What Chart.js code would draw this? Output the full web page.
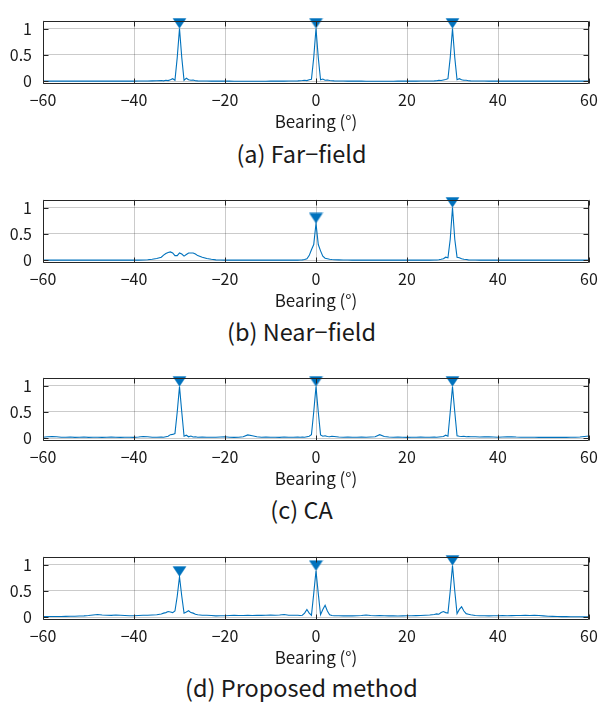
<!DOCTYPE html>
<html><head><meta charset="utf-8">
<script src="https://cdn.jsdelivr.net/npm/chart.js@4"></script>
<style>
html,body{margin:0;padding:0;background:#fff;}
body{width:601px;height:702px;position:relative;overflow:hidden;font-family:"Noto Sans CJK KR","Noto Sans",sans-serif;}
canvas.panel{position:absolute;left:0;}
.cap{position:absolute;left:0;width:603px;text-align:center;font-size:23.5px;line-height:28px;color:#1a1a1a;}
</style></head><body>
<canvas id="pa" class="panel" width="601" height="132" style="top:0px"></canvas>
<canvas id="pb" class="panel" width="601" height="132" style="top:179px"></canvas>
<canvas id="pc" class="panel" width="601" height="132" style="top:357px"></canvas>
<canvas id="pd" class="panel" width="601" height="132" style="top:536px"></canvas>
<div class="cap" style="top:139px">(a) Far−field</div>
<div class="cap" style="top:317px">(b) Near−field</div>
<div class="cap" style="top:495px">(c) CA</div>
<div class="cap" style="top:673px">(d) Proposed method</div>
<script>
// ---- data ----
const bearing = [
 -60,-59,-58,-57,-56,-55,-54,-53,-52,-51,-50,-49,-48,-47,-46,-45,-44,-43,-42,-41,-40,-39,-38,-37,-36,-35,-34,
 -33.5,-33,-32.5,-32,-31.5,-31,-30.5,-30,-29.5,-29,-28.5,-28,-27.5,-27,-26.5,
 -26,-25,-24,-23,-22,-21,-20,-19,-18,-17,-16,-15,-14,-13,-12,-11,-10,-9,-8,-7,-6,-5,-4,
 -3.5,-3,-2.5,-2,-1.5,-1,-0.5,0,0.5,1,1.5,2,2.5,3,3.5,
 4,5,6,7,8,9,10,11,12,13,14,15,16,17,18,19,20,21,22,23,24,25,26,
 26.5,27,27.5,28,28.5,29,29.5,30,30.5,31,31.5,32,32.5,33,33.5,
 34,35,36,37,38,39,40,41,42,43,44,45,46,47,48,49,50,51,52,53,54,55,56,57,58,59,60
];
const farField = [
 0.005,0.004,0.005,0.004,0.005,0.004,0.005,0.004,0.005,0.004,0.005,0.004,0.005,0.004,0.005,0.004,0.005,0.004,0.005,0.006,0.005,0.007,0.006,0.008,0.010,0.012,0.015,
 0.010,0.020,0.015,0.030,0.050,0.020,0.450,1.000,0.450,0.020,0.060,0.030,0.020,0.025,0.012,
 0.010,0.008,0.006,0.005,0.005,0.004,0.004,0.004,0.003,0.003,0.003,0.003,0.003,0.003,0.003,0.003,0.004,0.004,0.005,0.005,0.006,0.008,0.010,
 0.012,0.015,0.020,0.015,0.030,0.040,0.450,1.000,0.450,0.030,0.045,0.020,0.025,0.015,0.012,
 0.010,0.008,0.006,0.005,0.005,0.004,0.004,0.003,0.003,0.003,0.003,0.003,0.003,0.003,0.004,0.004,0.004,0.005,0.005,0.006,0.007,0.008,0.010,
 0.012,0.018,0.015,0.025,0.035,0.050,0.450,1.000,0.450,0.030,0.050,0.030,0.020,0.020,0.012,
 0.010,0.008,0.007,0.006,0.005,0.005,0.005,0.004,0.004,0.004,0.004,0.004,0.004,0.004,0.004,0.004,0.004,0.004,0.004,0.004,0.004,0.004,0.004,0.004,0.004,0.004,0.004
];
const nearField = [
 0.004,0.004,0.004,0.004,0.004,0.004,0.004,0.004,0.004,0.004,0.004,0.004,0.004,0.004,0.004,0.004,0.004,0.004,0.004,0.004,0.004,0.005,0.008,0.012,0.020,0.035,0.060,
 0.100,0.130,0.150,0.160,0.140,0.090,0.090,0.140,0.120,0.080,0.110,0.140,0.140,0.140,0.120,
 0.090,0.060,0.035,0.020,0.010,0.006,0.004,0.004,0.004,0.004,0.004,0.004,0.004,0.004,0.004,0.004,0.004,0.004,0.004,0.004,0.004,0.004,0.004,
 0.006,0.010,0.015,0.030,0.090,0.200,0.300,0.700,0.300,0.180,0.080,0.040,0.030,0.020,0.015,
 0.012,0.010,0.008,0.006,0.005,0.005,0.005,0.005,0.005,0.005,0.005,0.005,0.005,0.005,0.005,0.005,0.005,0.005,0.005,0.005,0.005,0.005,0.006,
 0.008,0.012,0.020,0.030,0.060,0.050,0.400,1.000,0.400,0.060,0.050,0.030,0.020,0.015,0.010,
 0.008,0.006,0.005,0.005,0.005,0.005,0.005,0.005,0.005,0.005,0.005,0.005,0.005,0.005,0.005,0.005,0.005,0.005,0.005,0.005,0.005,0.005,0.005,0.005,0.005,0.005,0.005
];
const caValues = [
 0.020,0.030,0.035,0.030,0.020,0.020,0.025,0.018,0.020,0.025,0.018,0.020,0.022,0.018,0.020,0.025,0.020,0.018,0.022,0.020,0.018,0.025,0.035,0.030,0.020,0.022,0.025,
 0.020,0.030,0.040,0.070,0.075,0.090,0.500,0.980,0.500,0.040,0.060,0.030,0.045,0.025,0.030,
 0.020,0.025,0.020,0.022,0.020,0.025,0.030,0.020,0.018,0.020,0.030,0.065,0.050,0.030,0.020,0.025,0.020,0.022,0.018,0.025,0.020,0.022,0.025,
 0.020,0.025,0.020,0.030,0.040,0.070,0.500,0.980,0.500,0.065,0.040,0.050,0.035,0.030,0.040,
 0.035,0.025,0.020,0.025,0.020,0.022,0.025,0.020,0.025,0.030,0.070,0.035,0.025,0.020,0.025,0.020,0.018,0.022,0.020,0.025,0.020,0.022,0.025,
 0.020,0.025,0.030,0.035,0.060,0.040,0.500,0.980,0.500,0.050,0.040,0.035,0.040,0.030,0.035,
 0.030,0.030,0.025,0.030,0.028,0.025,0.022,0.025,0.028,0.030,0.025,0.022,0.020,0.022,0.020,0.018,0.020,0.018,0.020,0.018,0.020,0.018,0.020,0.022,0.025,0.035,0.045
];
const proposedValues = [
 0.015,0.015,0.016,0.015,0.017,0.018,0.020,0.022,0.025,0.028,0.035,0.045,0.055,0.045,0.040,0.038,0.045,0.040,0.035,0.030,0.030,0.035,0.040,0.040,0.045,0.050,0.065,
 0.080,0.090,0.110,0.100,0.090,0.120,0.400,0.770,0.400,0.080,0.100,0.125,0.090,0.080,0.060,
 0.050,0.040,0.040,0.035,0.028,0.030,0.030,0.035,0.040,0.035,0.035,0.040,0.035,0.040,0.038,0.040,0.045,0.040,0.045,0.055,0.040,0.040,0.040,
 0.035,0.040,0.080,0.150,0.080,0.040,0.450,0.880,0.450,0.050,0.150,0.230,0.120,0.050,0.035,
 0.030,0.030,0.028,0.030,0.028,0.030,0.035,0.045,0.035,0.030,0.032,0.030,0.028,0.030,0.026,0.028,0.030,0.030,0.032,0.035,0.040,0.045,0.055,
 0.065,0.060,0.090,0.110,0.090,0.080,0.500,0.980,0.500,0.070,0.150,0.200,0.120,0.070,0.060,
 0.050,0.035,0.030,0.030,0.028,0.030,0.030,0.032,0.030,0.032,0.035,0.035,0.040,0.035,0.040,0.035,0.028,0.022,0.018,0.015,0.014,0.013,0.012,0.012,0.011,0.010,0.010
];
// detected peaks (bearing, value)
const farPeakX = [-30, 0, 30],  farPeakY = [1.0, 1.0, 1.0];
const nearPeakX = [0, 30],      nearPeakY = [0.70, 1.0];
const caPeakX = [-30, 0, 30],   caPeakY = [0.98, 0.98, 0.98];
const propPeakX = [-30, 0, 30], propPeakY = [0.77, 0.88, 0.98];
const xTicks = [-60, -40, -20, 0, 20, 40, 60];
const yTicks = [0, 0.5, 1];

// ---- styling / drawing ----
const BLUE = '#0072BD';
const AXIS = '#262626';
const FONT = '"Noto Sans CJK KR","Noto Sans",sans-serif';

function makeMarker(color) {
  const c = document.createElement('canvas');
  c.width = 15; c.height = 22;            // tip of the triangle sits at the canvas centre
  const g = c.getContext('2d');
  g.fillStyle = color;
  g.beginPath(); g.moveTo(0.5, 0.5); g.lineTo(14.5, 0.5); g.lineTo(7.5, 11); g.closePath(); g.fill();
  return c;
}
const marker = makeMarker(BLUE);

const framePlugin = {
  id: 'frame',
  afterDraw(chart) {
    const {ctx, chartArea: a, scales} = chart;
    ctx.save();
    ctx.strokeStyle = AXIS; ctx.lineWidth = 1;
    const L = Math.round(a.left) + 0.5, R = Math.round(a.right) - 0.5;
    const T = Math.round(a.top) + 0.5, B = Math.round(a.bottom) - 0.5;
    ctx.beginPath();
    ctx.rect(L, T, R - L, B - T);
    const tl = 5;
    scales.x.ticks.forEach(t => {
      const px = Math.round(scales.x.getPixelForValue(t.value)) + 0.5;
      ctx.moveTo(px, B); ctx.lineTo(px, B - tl);
      ctx.moveTo(px, T); ctx.lineTo(px, T + tl);
    });
    scales.y.ticks.forEach(t => {
      const py = Math.round(scales.y.getPixelForValue(t.value)) + 0.5;
      ctx.moveTo(L, py); ctx.lineTo(L + tl, py);
      ctx.moveTo(R, py); ctx.lineTo(R - tl, py);
    });
    ctx.stroke();
    ctx.restore();
  }
};

function minusFmt(v) { return String(v).replace('-', '\u2212'); }

function makePanel(id, values, peakX, peakY) {
  const lineData = bearing.map((b, i) => ({x: b, y: values[i]}));
  const peakData = peakX.map((b, i) => ({x: b, y: peakY[i]}));
  new Chart(document.getElementById(id), {
    type: 'line',
    data: {
      datasets: [
        {data: peakData, showLine: false, pointStyle: marker, pointRadius: 7,
         pointBackgroundColor: BLUE, pointBorderColor: BLUE, clip: false},
        {data: lineData, borderColor: BLUE, borderWidth: 1.1, pointRadius: 0,
         tension: 0, fill: false}
      ]
    },
    options: {
      responsive: false, animation: false, devicePixelRatio: 1,
      layout: {padding: {top: 11, right: 12, left: 0, bottom: 0}},
      plugins: {legend: {display: false}, tooltip: {enabled: false}},
      scales: {
        x: {
          type: 'linear', min: -60, max: 60,
          afterBuildTicks: ax => { ax.ticks = xTicks.map(v => ({value: v})); },
          afterFit: ax => { ax.height = 48; ax.paddingLeft = 0; ax.paddingRight = 0; },
          grid: {color: 'rgba(38,38,38,0.24)', drawTicks: false, lineWidth: 1},
          border: {display: false},
          ticks: {padding: 6, color: '#1a1a1a', font: {family: FONT, size: 16},
                  maxRotation: 0, callback: v => minusFmt(v)},
          title: {display: true, text: 'Bearing (°)', color: '#1a1a1a',
                  font: {family: FONT, size: 17}, padding: {top: 0, bottom: 0}}
        },
        y: {
          type: 'linear', min: -0.05, max: 1.15,
          afterBuildTicks: ax => { ax.ticks = yTicks.map(v => ({value: v})); },
          afterFit: ax => { ax.width = 43; },
          grid: {color: 'rgba(38,38,38,0.24)', drawTicks: false, lineWidth: 1},
          border: {display: false},
          ticks: {padding: 11, color: '#1a1a1a', font: {family: FONT, size: 16},
                  callback: v => minusFmt(v)}
        }
      }
    },
    plugins: [framePlugin]
  });
}

makePanel('pa', farField, farPeakX, farPeakY);
makePanel('pb', nearField, nearPeakX, nearPeakY);
makePanel('pc', caValues, caPeakX, caPeakY);
makePanel('pd', proposedValues, propPeakX, propPeakY);
</script>
</body></html>
